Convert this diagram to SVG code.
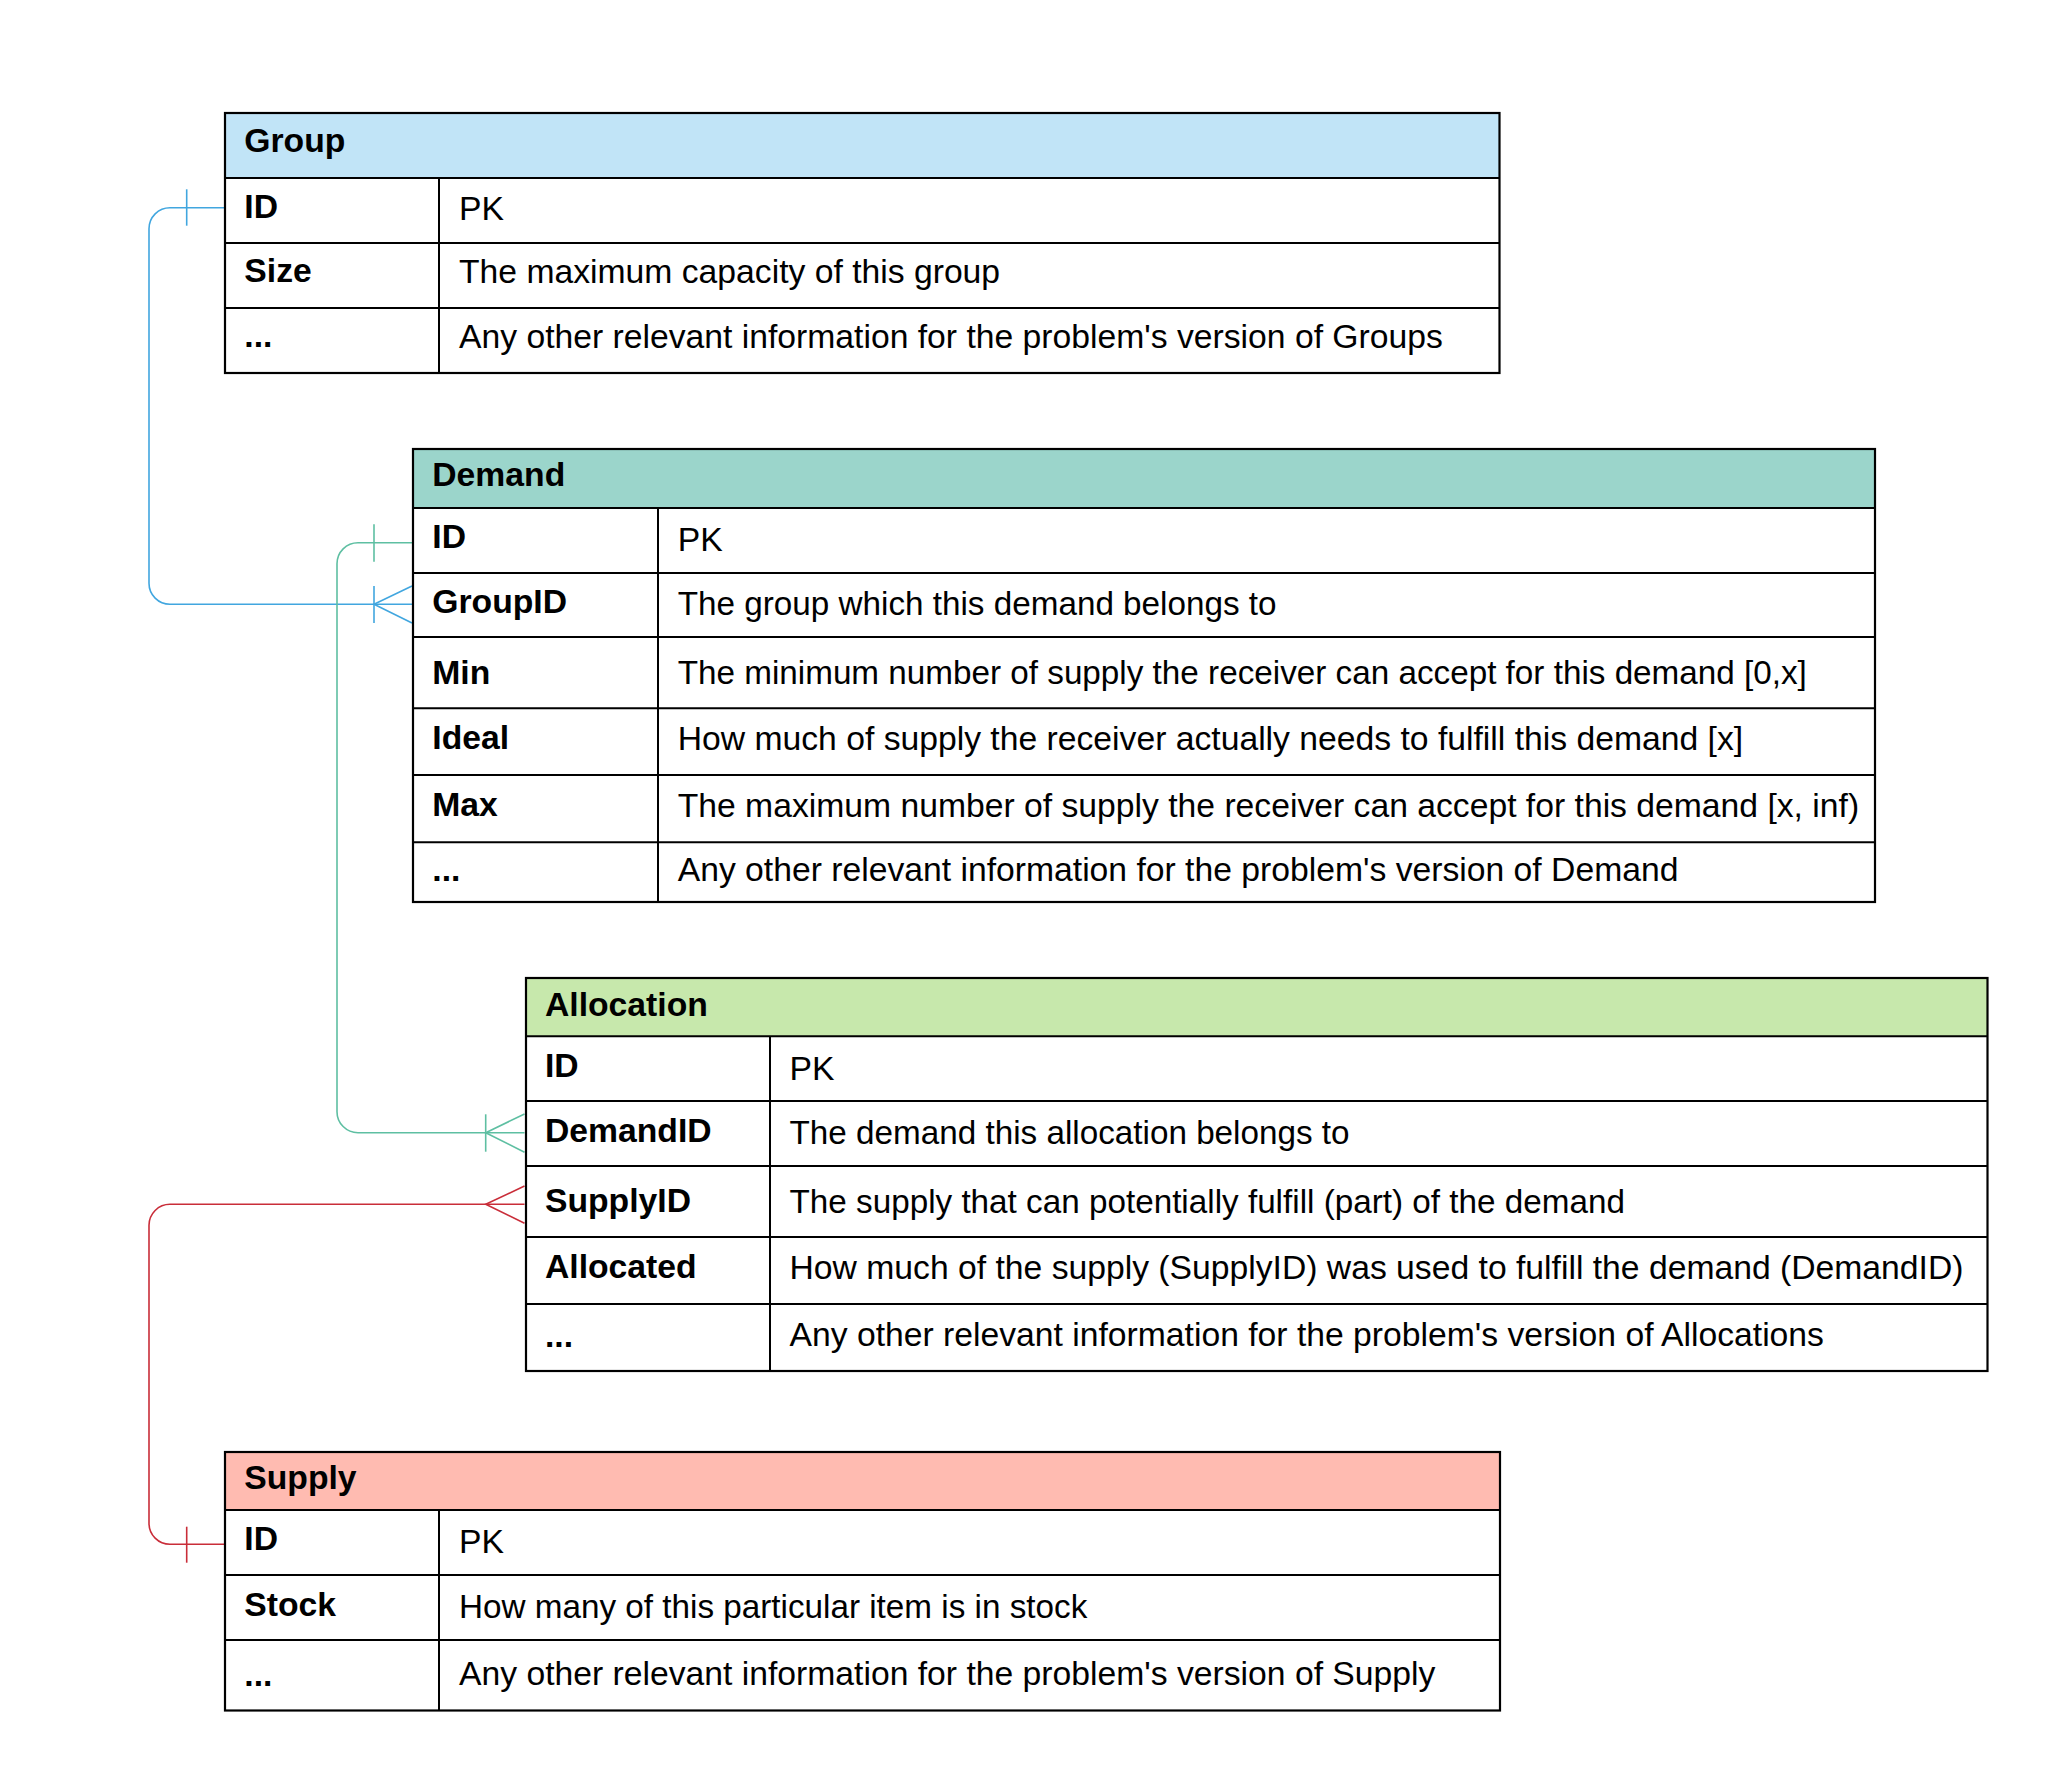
<svg xmlns="http://www.w3.org/2000/svg" width="2063" height="1785" viewBox="0 0 2063 1785">
<style>
  text { font-family: "Liberation Sans", Arial, sans-serif; font-size: 33.7px; fill: #000; }
  text.s { font-size: 33.25px; }
  .b { font-weight: bold; }
  .grid { stroke: #000; stroke-width: 2; fill: none; }
  .frame { stroke: #000; stroke-width: 2.2; fill: none; }
  .blue { stroke: #41a6df; stroke-width: 1.6; fill: none; }
  .teal { stroke: #5ebfa2; stroke-width: 1.6; fill: none; }
  .red { stroke: #c92d39; stroke-width: 1.6; fill: none; }
</style>
<rect x="0" y="0" width="2063" height="1785" fill="#ffffff"/>

<g id="connectors">
  <g id="group-demand">
    <path class="blue" d="M225,207.7 H170 A21,21 0 0 0 149,228.7 V583.3 A21,21 0 0 0 170,604.3 H412"/>
    <line class="blue" x1="186.7" y1="189.3" x2="186.7" y2="225.7"/>
    <line class="blue" x1="374" y1="586" x2="374" y2="623"/>
    <path class="blue" d="M412,586 L374,604.3 L412,623"/>
  </g>
  <g id="demand-allocation">
    <path class="teal" d="M413,542.7 H358 A21,21 0 0 0 337,563.7 V1111.7 A21,21 0 0 0 358,1132.7 H524.5"/>
    <line class="teal" x1="374" y1="524.3" x2="374" y2="561.7"/>
    <line class="teal" x1="485.7" y1="1114.3" x2="485.7" y2="1151.7"/>
    <path class="teal" d="M524.5,1114 L485.7,1132.7 L524.5,1152.3"/>
  </g>
  <g id="supply-allocation">
    <path class="red" d="M225,1544.3 H170 A21,21 0 0 1 149,1523.3 V1225.3 A21,21 0 0 1 170,1204.3 H486"/>
    <line class="red" stroke-width="1" x1="486" y1="1204.3" x2="524.5" y2="1204.3"/>
    <line class="red" x1="186.7" y1="1526.7" x2="186.7" y2="1562.7"/>
    <path class="red" d="M524.5,1186 L485.7,1204.3 L524.5,1223.3"/>
  </g>
</g>

<g id="table-group">
  <rect x="225" y="113" width="1274.5" height="65" fill="#c1e4f7"/>
  <rect x="225" y="178" width="1274.5" height="195" fill="#ffffff"/>
  <line class="grid" x1="225" y1="178" x2="1499.5" y2="178"/>
  <line class="grid" x1="225" y1="243" x2="1499.5" y2="243"/>
  <line class="grid" x1="225" y1="308" x2="1499.5" y2="308"/>
  <line class="grid" x1="439" y1="178" x2="439" y2="373"/>
  <rect class="frame" x="225" y="113" width="1274.5" height="260"/>
  <text class="b" x="244.3" y="152">Group</text>
  <text class="b" x="244.3" y="218">ID</text>
  <text x="459" y="219.5">PK</text>
  <text class="b" x="244.3" y="282">Size</text>
  <text x="459" y="283">The maximum capacity of this group</text>
  <text class="b" x="244.3" y="347">...</text>
  <text x="459" y="347.5">Any other relevant information for the problem's version of Groups</text>
</g>

<g id="table-demand">
  <rect x="413" y="449" width="1462" height="59" fill="#9bd5cb"/>
  <rect x="413" y="508" width="1462" height="394" fill="#ffffff"/>
  <line class="grid" x1="413" y1="508" x2="1875" y2="508"/>
  <line class="grid" x1="413" y1="573" x2="1875" y2="573"/>
  <line class="grid" x1="413" y1="637" x2="1875" y2="637"/>
  <line class="grid" x1="413" y1="708.3" x2="1875" y2="708.3"/>
  <line class="grid" x1="413" y1="775" x2="1875" y2="775"/>
  <line class="grid" stroke-width="1.4" x1="413" y1="842.3" x2="1875" y2="842.3"/>
  <line class="grid" x1="658" y1="508" x2="658" y2="902"/>
  <rect class="frame" x="413" y="449" width="1462" height="453"/>
  <text class="b" x="432.3" y="486.3">Demand</text>
  <text class="b" x="432.3" y="548.3">ID</text>
  <text x="677.7" y="551">PK</text>
  <text class="b" x="432.3" y="613.3">GroupID</text>
  <text class="s" x="677.7" y="615.3">The group which this demand belongs to</text>
  <text class="b" x="432.3" y="683.8">Min</text>
  <text class="s" x="677.7" y="684.3">The minimum number of supply the receiver can accept for this demand [0,x]</text>
  <text class="b" x="432.3" y="749.3">Ideal</text>
  <text x="677.7" y="749.8">How much of supply the receiver actually needs to fulfill this demand [x]</text>
  <text class="b" x="432.3" y="816.3">Max</text>
  <text x="677.7" y="816.8">The maximum number of supply the receiver can accept for this demand [x, inf)</text>
  <text class="b" x="432.3" y="880.5">...</text>
  <text x="677.7" y="880.5">Any other relevant information for the problem's version of Demand</text>
</g>

<g id="table-allocation">
  <rect x="526" y="978" width="1461.5" height="58.3" fill="#c7e8ac"/>
  <rect x="526" y="1036.3" width="1461.5" height="334.7" fill="#ffffff"/>
  <line class="grid" x1="526" y1="1036.3" x2="1987.5" y2="1036.3"/>
  <line class="grid" x1="526" y1="1101" x2="1987.5" y2="1101"/>
  <line class="grid" x1="526" y1="1166" x2="1987.5" y2="1166"/>
  <line class="grid" x1="526" y1="1237" x2="1987.5" y2="1237"/>
  <line class="grid" x1="526" y1="1304" x2="1987.5" y2="1304"/>
  <line class="grid" x1="770" y1="1036.3" x2="770" y2="1371"/>
  <rect class="frame" x="526" y="978" width="1461.5" height="393"/>
  <text class="b" x="545" y="1015.6">Allocation</text>
  <text class="b" x="545" y="1077.3">ID</text>
  <text x="789.5" y="1080">PK</text>
  <text class="b" x="545" y="1141.5">DemandID</text>
  <text class="s" x="789.5" y="1144">The demand this allocation belongs to</text>
  <text class="b" x="545" y="1211.8">SupplyID</text>
  <text class="s" x="789.5" y="1212.8">The supply that can potentially fulfill (part) of the demand</text>
  <text class="b" x="545" y="1278.3">Allocated</text>
  <text x="789.5" y="1279.3">How much of the supply (SupplyID) was used to fulfill the demand (DemandID)</text>
  <text class="b" x="545" y="1346.5">...</text>
  <text x="789.5" y="1346">Any other relevant information for the problem's version of Allocations</text>
</g>

<g id="table-supply">
  <rect x="225" y="1452" width="1275" height="58" fill="#ffbbb1"/>
  <rect x="225" y="1510" width="1275" height="200.5" fill="#ffffff"/>
  <line class="grid" x1="225" y1="1510" x2="1500" y2="1510"/>
  <line class="grid" x1="225" y1="1575" x2="1500" y2="1575"/>
  <line class="grid" x1="225" y1="1640" x2="1500" y2="1640"/>
  <line class="grid" x1="439" y1="1510" x2="439" y2="1710.5"/>
  <rect class="frame" x="225" y="1452" width="1275" height="258.5"/>
  <text class="b" x="244.3" y="1489.3">Supply</text>
  <text class="b" x="244.3" y="1550">ID</text>
  <text x="459" y="1553.3">PK</text>
  <text class="b" x="244.3" y="1616">Stock</text>
  <text class="s" x="459" y="1618">How many of this particular item is in stock</text>
  <text class="b" x="244.3" y="1686">...</text>
  <text x="459" y="1685">Any other relevant information for the problem's version of Supply</text>
</g>
</svg>
